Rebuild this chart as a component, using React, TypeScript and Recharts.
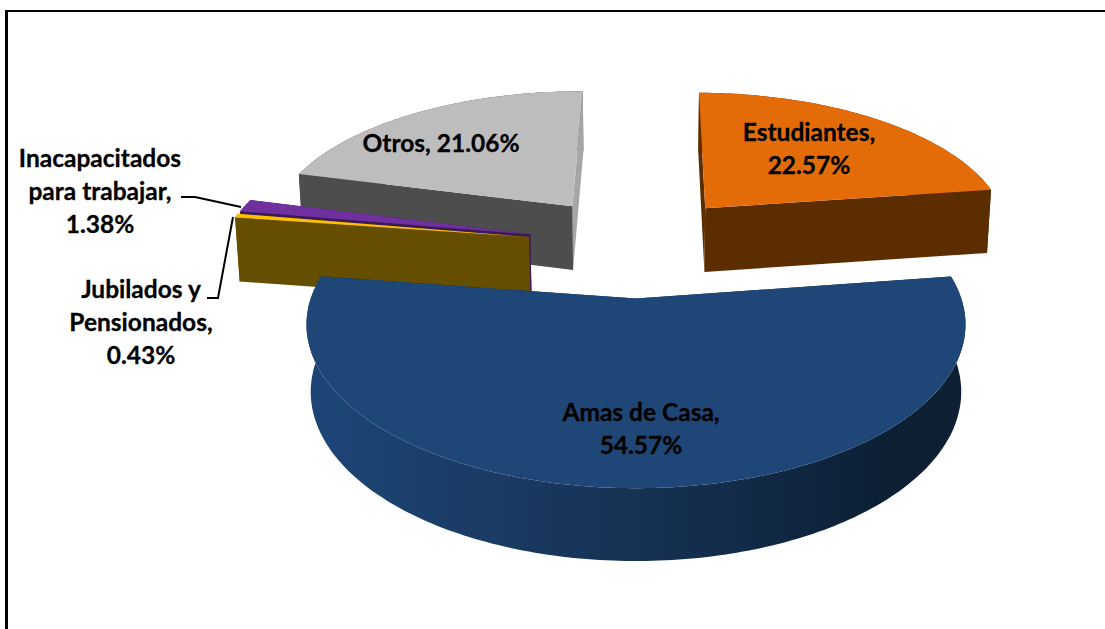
// Pastel 3D con sectores separados: el ángulo de cada sector viene de Recharts,
// la perspectiva se aplica en la forma personalizada.
import React from 'react';
import { PieChart, Pie } from 'recharts';

const categories = ['Estudiantes', 'Amas de Casa', 'Jubilados y Pensionados', 'Inacapacitados para trabajar', 'Otros'];
const shares = [22.57, 54.57, 0.43, 1.38, 21.06];
const labelLines = [
  ['Estudiantes,', '22.57%'],
  ['Amas de Casa,', '54.57%'],
  ['Jubilados y', 'Pensionados,', '0.43%'],
  ['Inacapacitados', 'para trabajar,', '1.38%'],
  ['Otros, 21.06%'],
];

const data = categories.map((name, i) => ({ name, value: shares[i] }));

const topColors = ['#e36c09', '#1e4778', '#ffc000', '#7030a0', '#bdbdbd'];
const rimColors = ['#5c2d00', 'url(#amasWall)', '#664e00', '#3c1a58', '#4d4d4d'];
// pared plana donde arranca el sector (sentido horario) y donde termina
const startWallColors = ['#5c2d00', '#102a47', '#664e00', '#3c1a58', '#4d4d4d'];
const endWallColors = ['#5c2d00', '#102a47', '#664e00', '#3c1a58', '#a6a6a6'];
const labelCenters = [
  [809, 133],
  [641, 413],
  [141, 290],
  [100, 159],
  [441, 144],
];
const leaders: Record<number, string> = {
  2: 'M207 298 L218 298 L233 217',
  3: 'M181 197 L195 197 L241 207',
};

// orden de pintado, de atrás hacia adelante
const layers = [['Otros', 'Estudiantes'], ['Inacapacitados para trabajar'], ['Jubilados y Pensionados'], ['Amas de Casa']];

const CX = 636;
const CY = 245;
const RADIUS = 308;
const TILT = 143;
const PERSP = 0.15;
const EXPLODE = 0.355;
const DEPTH = 65;
const RAD = Math.PI / 180;

const project = (x: number, y: number, low: boolean, cx: number, cy: number, r: number) => {
  const w = 1 + PERSP * y;
  const wx = low ? w + 0.012 : w;
  const sx = cx + (r * x) / wx;
  const sy = cy - (TILT * y) / w + (low ? DEPTH / Math.sqrt(w) : 0);
  return [sx, sy];
};

const toPath = (pts: number[][]) =>
  'M' + pts.map((p) => `${p[0].toFixed(1)} ${p[1].toFixed(1)}`).join(' L') + ' Z';

const Slice3D = (props: any, only: string[]) => {
  const { cx, cy, outerRadius, startAngle, endAngle, name } = props;
  if (!only.includes(name)) return <g />;
  const i = categories.indexOf(name);
  const mid = ((startAngle + endAngle) / 2) * RAD;
  const ox = EXPLODE * Math.cos(mid);
  const oy = EXPLODE * Math.sin(mid);
  const steps = Math.max(2, Math.ceil(Math.abs(startAngle - endAngle)));
  const rim: number[][] = [];
  for (let s = 0; s <= steps; s++) {
    const a = (startAngle + ((endAngle - startAngle) * s) / steps) * RAD;
    rim.push([ox + Math.cos(a), oy + Math.sin(a)]);
  }
  const p = (q: number[], low: boolean) => project(q[0], q[1], low, cx, cy, outerRadius);
  const apex = [ox, oy];
  const first = rim[0];
  const last = rim[rim.length - 1];
  const top = [p(apex, false), ...rim.map((q) => p(q, false))];
  const outer = [...rim.map((q) => p(q, false)), ...rim.slice().reverse().map((q) => p(q, true))];
  const wallA = [p(apex, false), p(first, false), p(first, true), p(apex, true)];
  const wallB = [p(apex, false), p(last, false), p(last, true), p(apex, true)];
  return (
    <g>
      <path d={toPath(outer)} fill={rimColors[i]} />
      <path d={toPath(wallB)} fill={endWallColors[i]} />
      <path d={toPath(wallA)} fill={startWallColors[i]} />
      <path d={toPath(top)} fill={topColors[i]} />
    </g>
  );
};

const renderLabel = (props: any) => {
  const i = categories.indexOf(props.name);
  const [x, y] = labelCenters[i];
  return (
    <g key={props.name}>
      {leaders[i] && <path d={leaders[i]} fill="none" stroke="#000" strokeWidth={2} />}
      <text x={x} y={y} textAnchor="middle" fontFamily="Lato, sans-serif" fontWeight={700} fontSize={24.5} fill="#000" stroke="#000" strokeWidth={0.3}>
        {labelLines[i].map((line, k) => (
          <tspan key={k} x={x} y={y + 8 + k * 33}>
            {line}
          </tspan>
        ))}
      </text>
    </g>
  );
};

const App: React.FC = () => (
  <div style={{ position: 'absolute', left: 0, top: 0, width: 1105, height: 629, background: '#fff', overflow: 'hidden' }}>
    <div style={{ position: 'absolute', left: 5, top: 10, right: 0, height: 2, background: '#000' }} />
    <div style={{ position: 'absolute', left: 5, top: 10, bottom: 0, width: 3, background: '#000' }} />
    <div style={{ position: 'absolute', left: 0, top: 0 }}>
      <PieChart width={1105} height={629} margin={{ top: 0, right: 0, bottom: 0, left: 0 }}>
        <defs>
          <linearGradient id="amasWall" x1="0" y1="0" x2="1" y2="0">
            <stop offset="0%" stopColor="#1d4677" />
            <stop offset="30%" stopColor="#1a3a62" />
            <stop offset="65%" stopColor="#132b49" />
            <stop offset="88%" stopColor="#0c1f33" />
            <stop offset="100%" stopColor="#0c1f33" />
          </linearGradient>
        </defs>
        {layers.map((only, n) => (
          <Pie
            key={n}
            data={data}
            dataKey="value"
            nameKey="name"
            cx={CX}
            cy={CY}
            outerRadius={RADIUS}
            startAngle={89.45}
            endAngle={-270.55}
            stroke="none"
            isAnimationActive={false}
            shape={(p: any) => Slice3D(p, only)}
            label={n === layers.length - 1 ? renderLabel : false}
            labelLine={false}
          />
        ))}
      </PieChart>
    </div>
  </div>
);

export default App;
